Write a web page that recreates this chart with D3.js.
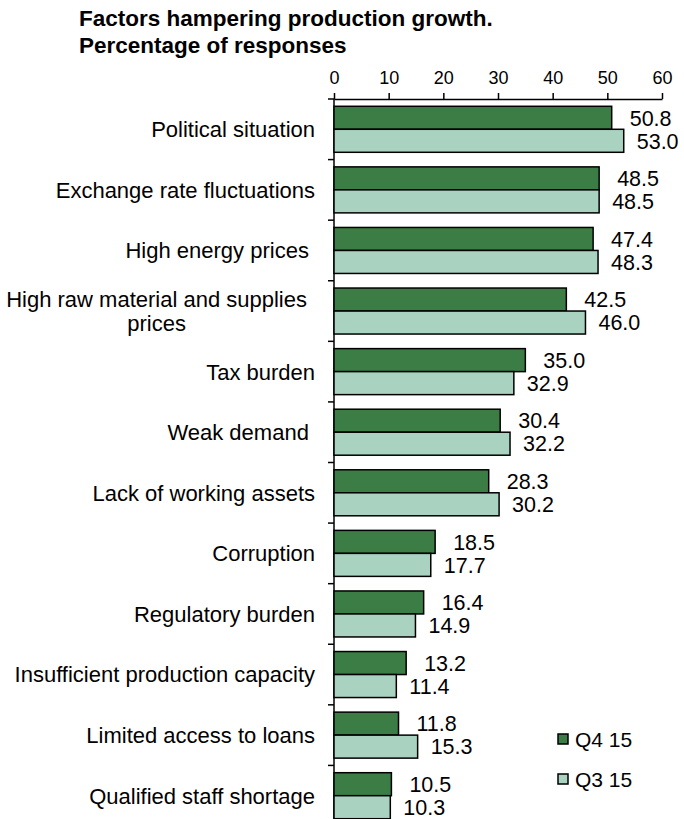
<!DOCTYPE html>
<html>
<head>
<meta charset="utf-8">
<script src="https://cdn.jsdelivr.net/npm/d3@7"></script>
<style>
  body { margin: 0; background: #fff; }
  svg text { font-family: "Liberation Sans", Arial, sans-serif; fill: #000; white-space: pre; }
</style>
</head>
<body>
<div id="chart"></div>
<script>
// chart data
var categories = [
  "Political situation",
  "Exchange rate fluctuations",
  "High energy prices ",
  "High raw material and supplies|prices",
  "Tax burden",
  "Weak demand ",
  "Lack of working assets",
  "Corruption",
  "Regulatory burden",
  "Insufficient production capacity",
  "Limited access to loans",
  "Qualified staff shortage"
];
var q4Values = [50.8, 48.5, 47.4, 42.5, 35.0, 30.4, 28.3, 18.5, 16.4, 13.2, 11.8, 10.5];
var q3Values = [53.0, 48.5, 48.3, 46.0, 32.9, 32.2, 30.2, 17.7, 14.9, 11.4, 15.3, 10.3];
var seriesNames = ["Q4 15", "Q3 15"];
var xTicks = [0, 10, 20, 30, 40, 50, 60];
var titleLines = ["Factors hampering production growth.", "Percentage of responses"];

var colors = ["#3b7d45", "#a9d2c0"];

var svgWidth = 684;
var svgHeight = 819;
var margin = { top: 99, left: 334 };
var plotWidth = 328;
var plotHeight = 727;

var svg = d3.select("#chart")
  .append("svg")
  .attr("width", svgWidth)
  .attr("height", svgHeight);

// title
svg.append("text")
  .attr("x", 79)
  .attr("y", 26)
  .style("font-size", "22.5px")
  .style("font-weight", "bold")
  .text(titleLines[0]);
svg.append("text")
  .attr("x", 79)
  .attr("y", 53)
  .style("font-size", "22.5px")
  .style("font-weight", "bold")
  .text(titleLines[1]);

var chartGroup = svg.append("g")
  .attr("transform", `translate(${margin.left}, ${margin.top})`);

// scales
var xScale = d3.scaleLinear()
  .domain([0, 60])
  .range([0, plotWidth]);

var yScale = d3.scaleBand()
  .domain(categories)
  .range([0, plotHeight]);

var barH = 23;
var barOffset = (yScale.bandwidth() - 2 * barH) / 2;

// top axis
var topAxis = d3.axisTop(xScale)
  .tickValues(xTicks)
  .tickSize(6)
  .tickSizeOuter(0)
  .tickPadding(9);
var xAxisG = chartGroup.append("g").call(topAxis);
xAxisG.select(".domain").attr("stroke", "#000").attr("stroke-width", 1.5);
xAxisG.selectAll(".tick line").attr("stroke", "#000").attr("stroke-width", 1.5);
xAxisG.selectAll(".tick text")
  .style("font-size", "18px")
  .style("font-family", "Liberation Sans, Arial, sans-serif");

// left axis: line plus ticks between categories
chartGroup.append("line")
  .attr("x1", 0).attr("x2", 0)
  .attr("y1", 0).attr("y2", plotHeight)
  .attr("stroke", "#000")
  .attr("stroke-width", 1.5);

chartGroup.selectAll(".ytick")
  .data(categories.concat(["_end"]))
  .enter()
  .append("line")
  .attr("class", "ytick")
  .attr("x1", -6).attr("x2", 0)
  .attr("y1", (d, i) => i * yScale.step())
  .attr("y2", (d, i) => i * yScale.step())
  .attr("stroke", "#000")
  .attr("stroke-width", 1.5);

// bars
var series = [q4Values, q3Values];
series.forEach(function(vals, s) {
  chartGroup.selectAll(".bar" + s)
    .data(vals)
    .enter()
    .append("rect")
    .attr("class", "bar" + s)
    .attr("x", 0)
    .attr("y", (d, i) => yScale(categories[i]) + barOffset + s * barH)
    .attr("width", d => xScale(d))
    .attr("height", barH)
    .attr("fill", colors[s])
    .attr("stroke", "#000")
    .attr("stroke-width", 1.5);

  // value labels
  chartGroup.selectAll(".val" + s)
    .data(vals)
    .enter()
    .append("text")
    .attr("class", "val" + s)
    .attr("x", d => xScale(d) + (s === 0 ? 18 : 13))
    .attr("y", (d, i) => yScale(categories[i]) + barOffset + s * barH + barH / 2)
    .attr("dy", "0.36em")
    .style("font-size", "21.5px")
    .text(d => d.toFixed(1));
});

// category labels
chartGroup.selectAll(".cat")
  .data(categories)
  .enter()
  .append("text")
  .attr("class", "cat")
  .style("font-size", "22px")
  .each(function(d) {
    var lines = d.split("|");
    var t = d3.select(this);
    var cy = yScale(d) + yScale.bandwidth() / 2;
    if (lines.length === 1) {
      t.attr("x", -19)
        .attr("y", cy)
        .attr("dy", "0.36em")
        .attr("text-anchor", "end")
        .text(lines[0]);
    } else {
      // wrapped label: lines centred on each other, block ends near the axis
      var first = t.append("tspan").text(lines[0]);
      var w = first.node().getComputedTextLength();
      var mid = -27 - w / 2;
      t.attr("text-anchor", "middle");
      lines.forEach(function(line, j) {
        var span = j === 0 ? first : t.append("tspan").text(line);
        span.attr("x", mid)
          .attr("y", cy + (j - (lines.length - 1) / 2) * 24)
          .attr("dy", "0.36em");
      });
    }
  });

// legend
var legend = svg.append("g");
seriesNames.forEach(function(name, s) {
  legend.append("rect")
    .attr("x", 558)
    .attr("y", 734 + s * 40)
    .attr("width", 10)
    .attr("height", 10)
    .attr("fill", colors[s])
    .attr("stroke", "#000")
    .attr("stroke-width", 1.5);
  legend.append("text")
    .attr("x", 575)
    .attr("y", 739 + s * 40)
    .attr("dy", "0.36em")
    .style("font-size", "21px")
    .text(name);
});
</script>
</body>
</html>
